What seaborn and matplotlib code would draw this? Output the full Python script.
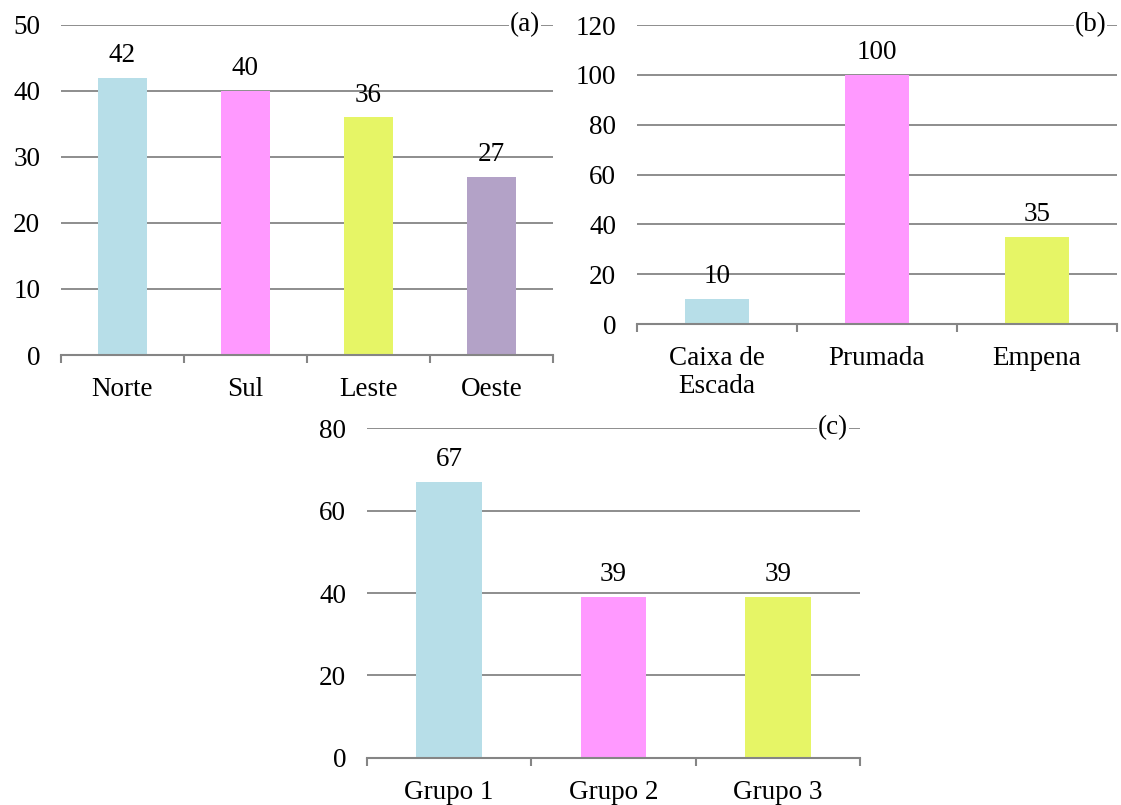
import matplotlib
matplotlib.use("Agg")
import matplotlib.pyplot as plt
import seaborn as sns
import pandas as pd
from matplotlib.ticker import FixedLocator

sns.set_theme(style="white")
plt.rcParams["font.family"] = ["Liberation Serif", "DejaVu Serif"]
plt.rcParams["text.color"] = "black"
plt.rcParams["xtick.labelcolor"] = "black"
plt.rcParams["ytick.labelcolor"] = "black"

# Panel (a): orientation
orient_labels = ["Norte", "Sul", "Leste", "Oeste"]
orient_values = [42, 40, 36, 27]

# Panel (b): location
local_labels = ["Caixa de\nEscada", "Prumada", "Empena"]
local_values = [10, 100, 35]

# Panel (c): groups
group_labels = ["Grupo 1", "Grupo 2", "Grupo 3"]
group_values = [67, 39, 39]

bar_colors = ["#B7DEE8", "#FF99FF", "#E6F566", "#B3A2C7"]
grid_color = "#858585"
FS = 19.5

fig = plt.figure(figsize=(11.21, 8.05), dpi=100)
ax_a = fig.add_axes([0.0544, 0.559, 0.4389, 0.410])
ax_b = fig.add_axes([0.5682, 0.5975, 0.4282, 0.3714])
ax_c = fig.add_axes([0.3274, 0.0584, 0.4398, 0.4099])


def draw_panel(ax, labels, values, ymax, ystep, tag, tag_x):
    df = pd.DataFrame({"cat": labels, "val": values})
    sns.barplot(data=df, x="cat", y="val", hue="cat",
                palette=bar_colors[:len(labels)], width=0.4,
                legend=False, ax=ax, saturation=1, linewidth=0)
    n = len(labels)
    ax.set_xlim(-0.5, n - 0.5)
    ax.set_ylim(0, ymax)
    ax.set_yticks(range(0, ymax + 1, ystep))
    ax.set_xlabel("")
    ax.set_ylabel("")
    ax.yaxis.grid(True, color=grid_color, linewidth=1.3)
    ax.set_axisbelow(True)
    for s in ["left", "top", "right"]:
        ax.spines[s].set_visible(False)
    ax.spines["bottom"].set_color(grid_color)
    ax.spines["bottom"].set_linewidth(1.5)
    ax.tick_params(axis="y", length=0, pad=15, labelsize=FS,
                   labelcolor="black")
    ax.tick_params(axis="x", which="major", length=0, pad=16, labelsize=FS,
                   labelcolor="black")
    ax.xaxis.set_minor_locator(FixedLocator([i - 0.5 for i in range(n + 1)]))
    ax.tick_params(axis="x", which="minor", length=6, width=1.5,
                   color=grid_color, direction="out", bottom=True)
    for c in ax.containers:
        ax.bar_label(c, labels=[f"{v:g}" for v in c.datavalues],
                     padding=7, fontsize=FS, color="black")
    ax.text(tag_x, 1.0, tag, transform=ax.transAxes, ha="center",
            va="center", fontsize=FS, color="black",
            bbox=dict(facecolor="white", edgecolor="none", pad=0.5))


draw_panel(ax_a, orient_labels, orient_values, 50, 10, "(a)", 0.943)
draw_panel(ax_b, local_labels, local_values, 120, 20, "(b)", 0.945)
draw_panel(ax_c, group_labels, group_values, 80, 20, "(c)", 0.945)

for lbl in ax_b.get_xticklabels():
    lbl.set_linespacing(1.15)

fig.savefig("out.png", dpi=100, facecolor="white")
